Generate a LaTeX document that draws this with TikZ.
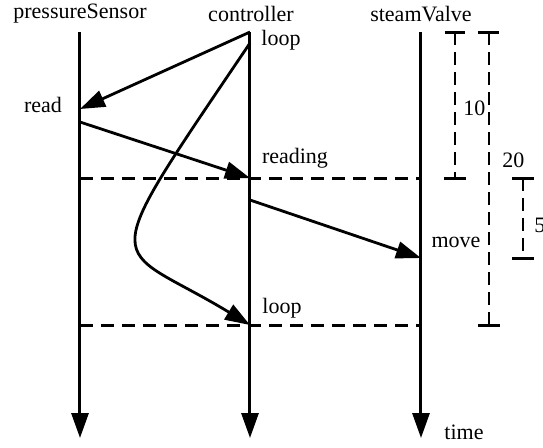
\documentclass[tikz,border=0pt]{standalone}
\usepackage{fontspec}
\setmainfont{Liberation Serif}
\usetikzlibrary{arrows.meta}

\begin{document}
\begin{tikzpicture}[x=0.5pt,y=-0.5pt,
  every node/.style={font=\fontsize{11}{13}\selectfont,inner sep=1pt},
  >={Triangle[length=12.5pt,width=8.5pt]},
  lifeline/.style={->,line width=1.5pt},
  msg/.style={->,line width=1.4pt},
  sync/.style={line width=1.5pt,dash pattern=on 6.5pt off 4pt},
  dim/.style={line width=1.4pt,dash pattern=on 6.5pt off 3.5pt},
  tick/.style={line width=1.5pt}]
\useasboundingbox (0,0) rectangle (543,447);

% Lifelines
\node (ps) at (80,14) {pressureSensor};
\node (ct) at (251,14) {controller};
\node (sv) at (421,14) {steamValve};
\coordinate (ps0) at (80,32);  \coordinate (ps1) at (80,438);
\coordinate (ct0) at (250,32); \coordinate (ct1) at (250,438);
\coordinate (sv0) at (421,32); \coordinate (sv1) at (421,438);
\draw[lifeline] (ps0) -- (ps1);
\draw[lifeline] (ct0) -- (ct1);
\draw[lifeline] (sv0) -- (sv1);
\node (time) at (464,432) {time};

% Synchronisation lines
\coordinate (s1a) at (80,178);  \coordinate (s1b) at (421,178);
\coordinate (s2a) at (80,325);  \coordinate (s2b) at (421,325);
\draw[sync] (s1a) -- (s1b);
\draw[sync] (s2a) -- (s2b);

% Messages
\coordinate (rd0) at (80,109);  \coordinate (rd1) at (80,122);
\coordinate (rg) at (250,178);
\coordinate (mv0) at (250,200); \coordinate (mv1) at (421,258);
\coordinate (lp0) at (250,43);  \coordinate (lp1) at (250,325);
\node (loopA) at (281,40) {loop};
\node (read) at (43,105) {read};
\node (reading) at (295,158) {reading};
\node (move) at (456,242) {move};
\node (loopB) at (282,308) {loop};
\draw[msg] (ct0) -- (rd0);
\draw[msg] (rd1) -- (rg);
\draw[msg] (mv0) -- (mv1);
\draw[msg] (lp0) .. controls +(-160,237) and +(-140,-85) .. (lp1);

% Timing constraints
\coordinate (d10a) at (455,32);  \coordinate (d10b) at (455,178);
\coordinate (d20a) at (489,32);  \coordinate (d20b) at (489,325);
\coordinate (d5a) at (523,178);  \coordinate (d5b) at (523,258);
\draw[dim] (d10a) -- (d10b);
\draw[dim] (d20a) -- (d20b);
\draw[dim] (d5a) -- (d5b);
\draw[tick] (d10a) ++(-10,0) -- ++(20,0);
\draw[tick] (d10b) ++(-11,0) -- ++(22,0);
\draw[tick] (d20a) ++(-11,0) -- ++(21,0);
\draw[tick] (d20b) ++(-11,0) -- ++(22,0);
\draw[tick] (d5a) ++(-11,0) -- ++(22,0);
\draw[tick] (d5b) ++(-11,0) -- ++(22,0);
\node[anchor=west] (l10) at (461,108) {10};
\node[anchor=west] (l20) at (500,160) {20};
\node[anchor=west] (l5) at (532,225) {5};
\end{tikzpicture}
\end{document}
